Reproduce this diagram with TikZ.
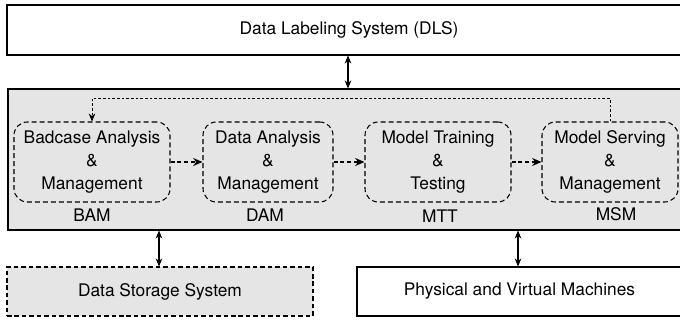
\documentclass[tikz,border=0pt]{standalone}
\usepackage{fontspec}
\setmainfont{TeX Gyre Heros}
\usetikzlibrary{arrows.meta,calc}
\definecolor{panelgray}{gray}{0.90}
\tikzset{
  plainbox/.style={draw=black, line width=0.8pt, rectangle, inner sep=0pt, font=\fontsize{13}{16}\selectfont},
  grayboxdash/.style={plainbox, fill=panelgray, dash pattern=on 3.4pt off 2.2pt},
  module/.style={draw=black, line width=0.8pt, dash pattern=on 3.7pt off 2.3pt, rounded corners=10pt,
    rectangle, inner sep=0pt, align=center, font=\fontsize{13}{17.25}\selectfont},
  tag/.style={font=\fontsize{13}{16}\selectfont, inner sep=0pt},
  biarrow/.style={{Stealth[length=6pt,width=5pt]}-{Stealth[length=6pt,width=5pt]}, line width=0.8pt},
  flow/.style={-{Stealth[length=7pt,width=6pt]}, line width=0.8pt, dash pattern=on 3pt off 2pt},
  feedback/.style={-{Stealth[length=6pt,width=5pt]}, line width=0.6pt, dash pattern=on 2pt off 1.5pt},
}
\begin{document}
\begin{tikzpicture}[x=0.75pt, y=-0.75pt]
  \useasboundingbox (0,0) rectangle (680,320);
  \begin{scope}
    \clip (0,0) rectangle (680,320);
    % outer systems
    \node[plainbox, minimum width=684*0.75pt, minimum height=50*0.75pt] (dls) at (349,30) {Data Labeling System (DLS)};
    \node[plainbox, fill=panelgray, minimum width=683*0.75pt, minimum height=141*0.75pt] (core) at (349.5,159.5) {};
    \node[grayboxdash, minimum width=306*0.75pt, minimum height=49*0.75pt] (dss) at (160,291.5) {Data Storage System};
    \node[plainbox, minimum width=325*0.75pt, minimum height=49*0.75pt] (pvm) at (519.5,291.5) {Physical and Virtual Machines};

    % pipeline modules
    \node[module, minimum width=156*0.75pt, minimum height=80*0.75pt] (bam) at (92,162) {Badcase Analysis\\\&\\Management};
    \node[module, minimum width=130*0.75pt, minimum height=80*0.75pt] (dam) at (268,162) {Data Analysis\\\&\\Management};
    \node[module, minimum width=146*0.75pt, minimum height=80*0.75pt] (mtt) at (438,162) {Model Training\\\&\\Testing};
    \node[module, minimum width=136*0.75pt, minimum height=80*0.75pt] (msm) at (610,162) {Model Serving\\\&\\Management};

    \node[tag] (bamlbl) at (92,215) {BAM};
    \node[tag] (damlbl) at (265,215) {DAM};
    \node[tag] (mttlbl) at (440,216) {MTT};
    \node[tag] (msmlbl) at (616,214) {MSM};

    % pipeline flow
    \draw[flow] (bam.east) -- (dam.west);
    \draw[flow] (dam.east) -- (mtt.west);
    \draw[flow] (mtt.east) -- (msm.west);
    \draw[feedback] (msm.north) -- ++(0,-23) -| (bam.north);

    % links between layers
    \coordinate (xtop) at (348,0);
    \coordinate (xleft) at (159,0);
    \coordinate (xright) at (518,0);
    \draw[biarrow] (dls.south -| xtop) -- (core.north -| xtop);
    \draw[biarrow] (core.south -| xleft) -- (dss.north -| xleft);
    \draw[biarrow] (core.south -| xright) -- (pvm.north -| xright);
  \end{scope}
\end{tikzpicture}
\end{document}
